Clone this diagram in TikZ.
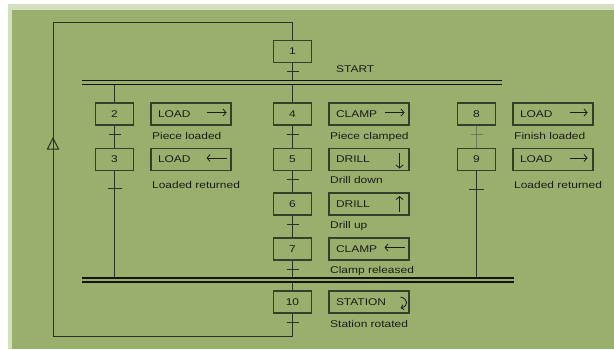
\documentclass[tikz,border=0pt]{standalone}
\usepackage{fontspec}
\setmainfont{Liberation Sans}[FakeStretch=1.22]
\usetikzlibrary{calc,arrows.meta}
\definecolor{bgm}{HTML}{9AAE6E}
\definecolor{bgl}{HTML}{D3DFBD}
\definecolor{boxc}{HTML}{34402A}
\definecolor{linec}{HTML}{2A3320}
\definecolor{barc}{HTML}{10160A}
\definecolor{faint}{HTML}{6F7D56}
\definecolor{txt}{HTML}{1A1E14}
\begin{document}
\begin{tikzpicture}[x=1pt,y=-1pt,
  font=\fontsize{9.8}{11}\selectfont, text=txt,
  stepbox/.style={draw=boxc, line width=1.1pt, minimum width=38pt, minimum height=22pt, inner sep=0pt},
  actbox/.style={draw=boxc, line width=1.1pt, minimum width=80pt, minimum height=22pt, inner sep=0pt, text width=66pt, align=left},
  lbl/.style={anchor=base west, inner sep=0pt},
  conn/.style={draw=linec, line width=1pt},
  bar/.style={draw=barc, line width=1.3pt},
  tk/.style={draw=linec, line width=1pt},
  arr/.style={draw=txt, line width=0.8pt, -{Straight Barb[length=3pt,width=7pt]}}]
\useasboundingbox (0,0) rectangle (614,349);
\fill[white] (0,0) rectangle (614,349);
\fill[bgl] (8,4) rectangle (614,349);
\fill[bgm] (12,9.5) rectangle (614,349);

% bars
\coordinate (tbU) at (82,80.3);
\coordinate (tbL) at (82,84.7);
\coordinate (bbU) at (82,278);
\coordinate (bbL) at (82,282);
\draw[bar] (tbU) -- (502,80.3);
\draw[bar] (tbL) -- (502,84.7);
\draw[bar] (bbU) -- (514,278);
\draw[bar] (bbL) -- (514,282);

% step boxes
\node[stepbox] (s1) at (292.5,51.5) {1};
\node[stepbox] (s2) at (114.5,114) {2};
\node[stepbox] (s3) at (114.5,159.5) {3};
\node[stepbox] (s4) at (292.5,114) {4};
\node[stepbox] (s5) at (292.5,159.5) {5};
\node[stepbox] (s6) at (292.5,204) {6};
\node[stepbox] (s7) at (292.5,249) {7};
\node[stepbox] (s8) at (476.5,114) {8};
\node[stepbox] (s9) at (476.5,159.5) {9};
\node[stepbox] (s10) at (292.5,302) {10};

% action boxes
\node[actbox] (a2) at (191,114) {LOAD};
\node[actbox] (a3) at (191,159.5) {LOAD};
\node[actbox] (a4) at (369,114) {CLAMP};
\node[actbox] (a5) at (369,159.5) {DRILL};
\node[actbox] (a6) at (369,204) {DRILL};
\node[actbox] (a7) at (369,249) {CLAMP};
\node[actbox] (a8) at (553,114) {LOAD};
\node[actbox] (a9) at (553,159.5) {LOAD};
\node[actbox] (a10) at (369,302) {STATION};

% arrows inside action boxes
\draw[arr] ([shift={(-25,-1.5)}]a2.east) -- ([shift={(-5,-1.5)}]a2.east);
\draw[arr] ([shift={(-5,-1.5)}]a3.east) -- ([shift={(-25,-1.5)}]a3.east);
\draw[arr] ([shift={(-25,-1.5)}]a4.east) -- ([shift={(-5,-1.5)}]a4.east);
\draw[arr] ([shift={(-10,-6.5)}]a5.east) -- ([shift={(-10,9)}]a5.east);
\draw[arr] ([shift={(-10,8)}]a6.east) -- ([shift={(-10,-8)}]a6.east);
\draw[arr] ([shift={(-5,-1.5)}]a7.east) -- ([shift={(-25,-1.5)}]a7.east);
\draw[arr] ([shift={(-24,-1.5)}]a8.east) -- ([shift={(-6,-1.5)}]a8.east);
\draw[arr] ([shift={(-24,-1.5)}]a9.east) -- ([shift={(-6,-1.5)}]a9.east);
\draw[draw=txt, line width=0.8pt, -{Straight Barb[length=2.5pt,width=5pt]}]
  ([shift={(-9,-5)}]a10.east) .. controls ([shift={(-1,-3)}]a10.east) and ([shift={(-1,4)}]a10.east) .. ([shift={(-9,6)}]a10.east);

% labels
\node[lbl] (t1) at (336,72.5) {START};
\node[lbl] (t2) at (152,139.5) {Piece loaded};
\node[lbl] (t3) at (152,188) {Loaded returned};
\node[lbl] (t4) at (330,139.5) {Piece clamped};
\node[lbl] (t5) at (330,183) {Drill down};
\node[lbl] (t6) at (330,228) {Drill up};
\node[lbl] (t7) at (330,273) {Clamp released};
\node[lbl] (t8) at (514,139.5) {Finish loaded};
\node[lbl] (t9) at (514,188) {Loaded returned};
\node[lbl] (t10) at (330,327) {Station rotated};

% connectors
\draw[conn] (s1.south) -- (s1.south |- tbU);
\draw[conn] (s2.north |- tbL) -- (s2.north);
\draw[conn] (s2.south) -- (s3.north);
\draw[conn] (s3.south) -- (s3.south |- bbU);
\draw[conn] (s4.north |- tbL) -- (s4.north);
\draw[conn] (s4.south) -- (s5.north);
\draw[conn] (s5.south) -- (s6.north);
\draw[conn] (s6.south) -- (s7.north);
\draw[conn] (s7.south) -- (s7.south |- bbU);
\draw[conn] (s10.north |- bbL) -- (s10.north);
\draw[conn, draw=faint] (s8.south) -- (s9.north);
\draw[conn] (s9.south) -- (s9.south |- bbU);
\coordinate (lb) at (53,336);
\coordinate (lt) at (53,22.7);
\draw[conn] (s10.south) -- (s10.south |- lb) -- (lb) -- (lt) -- (s1.north |- lt) -- (s1.north);
\coordinate (tri) at (53,143.5);
\draw[conn] ($(tri)+(-5.5,5.5)$) -- ($(tri)+(0,-5.5)$) -- ($(tri)+(5.5,5.5)$) -- cycle;

% transitions
\draw[tk] ($(s1.south)+(-6,8.5)$) -- ($(s1.south)+(6,8.5)$);
\draw[tk] ($(s2.south)+(-6,9)$) -- ($(s2.south)+(6,9)$);
\draw[tk] ($(s3.south)+(-7,17)$) -- ($(s3.south)+(7,17)$);
\draw[tk] ($(s4.south)+(-6,9)$) -- ($(s4.south)+(6,9)$);
\draw[tk] ($(s5.south)+(-6,8)$) -- ($(s5.south)+(6,8)$);
\draw[tk] ($(s6.south)+(-6,9)$) -- ($(s6.south)+(6,9)$);
\draw[tk] ($(s7.south)+(-6,9)$) -- ($(s7.south)+(6,9)$);
\draw[tk] ($(s10.south)+(-6,9)$) -- ($(s10.south)+(6,9)$);
\draw[tk, draw=faint] ($(s8.south)+(-6,9)$) -- ($(s8.south)+(6,9)$);
\draw[tk] ($(s9.south)+(-7.5,18)$) -- ($(s9.south)+(7.5,18)$);
\end{tikzpicture}
\end{document}
